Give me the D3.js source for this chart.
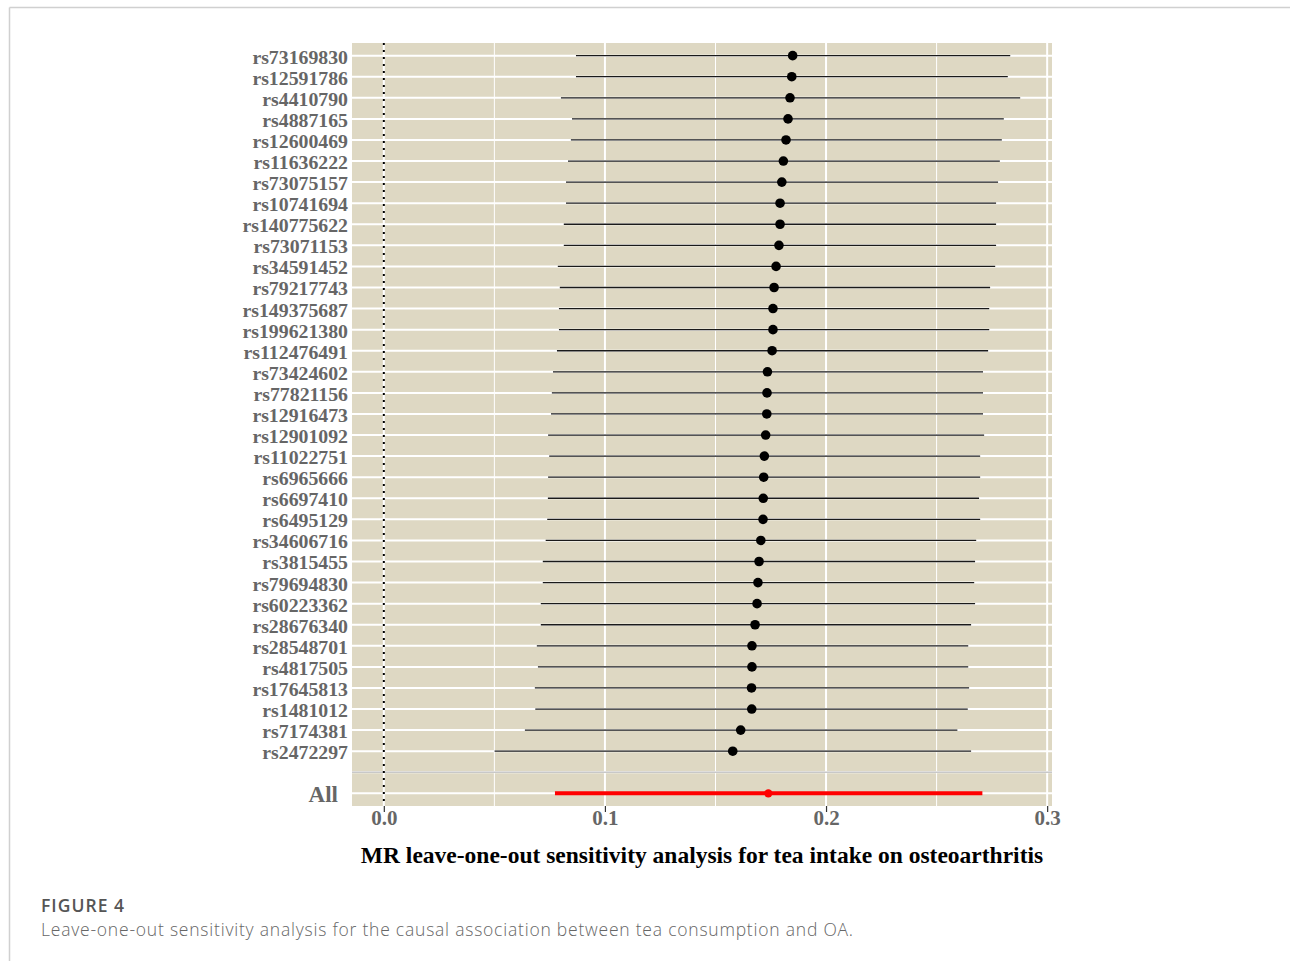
<!DOCTYPE html>
<html>
<head>
<meta charset="utf-8">
<script src="https://cdn.jsdelivr.net/npm/d3@7"></script>
<style>
  html, body { margin: 0; padding: 0; background: #fff; }
  svg { display: block; }
</style>
</head>
<body>
<svg id="chart" width="1290" height="961"></svg>
<script>
// ---- data ----
const snps = ["rs73169830","rs12591786","rs4410790","rs4887165","rs12600469","rs11636222","rs73075157","rs10741694","rs140775622","rs73071153","rs34591452","rs79217743","rs149375687","rs199621380","rs112476491","rs73424602","rs77821156","rs12916473","rs12901092","rs11022751","rs6965666","rs6697410","rs6495129","rs34606716","rs3815455","rs79694830","rs60223362","rs28676340","rs28548701","rs4817505","rs17645813","rs1481012","rs7174381","rs2472297"];
const beta = [0.1849,0.1845,0.1837,0.1828,0.1819,0.1807,0.1800,0.1792,0.1792,0.1787,0.1774,0.1765,0.1760,0.1760,0.1756,0.1735,0.1733,0.1732,0.1727,0.1721,0.1718,0.1716,0.1715,0.1705,0.1697,0.1692,0.1688,0.1679,0.1665,0.1665,0.1663,0.1664,0.1614,0.1578];
const lower = [0.0869,0.0869,0.0801,0.0851,0.0846,0.0833,0.0824,0.0824,0.0814,0.0814,0.0787,0.0796,0.0792,0.0792,0.0783,0.0765,0.0760,0.0756,0.0743,0.0748,0.0743,0.0742,0.0739,0.0732,0.0719,0.0719,0.0710,0.0710,0.0692,0.0697,0.0683,0.0685,0.0638,0.0501];
const upper = [0.2833,0.2822,0.2878,0.2804,0.2795,0.2786,0.2778,0.2769,0.2769,0.2769,0.2765,0.2742,0.2738,0.2738,0.2733,0.2710,0.2710,0.2710,0.2715,0.2697,0.2697,0.2692,0.2697,0.2679,0.2674,0.2670,0.2674,0.2656,0.2643,0.2643,0.2647,0.2641,0.2594,0.2656];
const allLabel = "All";
const allBeta = 0.1739, allLower = 0.0774, allUpper = 0.2707;
const xTicks = [0.0, 0.1, 0.2, 0.3];
const xMinor = [0.05, 0.15, 0.25];
const xTitle = "MR leave-one-out sensitivity analysis for tea intake on osteoarthritis";
const figLabel = "FIGURE 4";
const figCaption = "Leave-one-out sensitivity analysis for the causal association between tea consumption and OA.";

// ---- layout ----
const svg = d3.select("#chart");
const panel = {left: 352, right: 1052, top: 43, bottom: 806};
const serif = "'Liberation Serif','Times New Roman',serif";
const sans = "'Open Sans','Noto Sans',sans-serif";

// page frame
svg.append("line").attr("x1", 9.5).attr("x2", 1290).attr("y1", 7.5).attr("y2", 7.5)
  .attr("stroke", "#d0d0d0").attr("stroke-width", 1.5);
svg.append("line").attr("x1", 9.5).attr("x2", 9.5).attr("y1", 7.5).attr("y2", 961)
  .attr("stroke", "#d0d0d0").attr("stroke-width", 1.5);

// scales
const rows = snps.concat([""], [allLabel]);
const lo = d3.min([0].concat(lower, [allLower]));
const hi = d3.max([0].concat(upper, [allUpper]));
const pad = (hi - lo) * 0.05;
const x = d3.scaleLinear().domain([lo - pad, hi + pad]).range([panel.left, panel.right]);
const y = d3.scalePoint().domain(rows).range([panel.top, panel.bottom]).padding(0.6);

// panel background
svg.append("rect").attr("x", panel.left).attr("y", panel.top)
  .attr("width", panel.right - panel.left).attr("height", panel.bottom - panel.top)
  .attr("fill", "#DED8C3");

// grid
const g = svg.append("g");
g.selectAll(".minor").data(xMinor).enter().append("line")
  .attr("x1", d => x(d)).attr("x2", d => x(d)).attr("y1", panel.top).attr("y2", panel.bottom)
  .attr("stroke", "#fff").attr("stroke-width", 1);
g.selectAll(".major").data(xTicks).enter().append("line")
  .attr("x1", d => x(d)).attr("x2", d => x(d)).attr("y1", panel.top).attr("y2", panel.bottom)
  .attr("stroke", "#fff").attr("stroke-width", 2);
g.selectAll(".hgrid").data(rows).enter().append("line")
  .attr("x1", panel.left).attr("x2", panel.right).attr("y1", d => y(d)).attr("y2", d => y(d))
  .attr("stroke", "#fff").attr("stroke-width", 2);

// grey separator at blank row
svg.append("line").attr("x1", panel.left).attr("x2", panel.right)
  .attr("y1", y("")).attr("y2", y(""))
  .attr("stroke", "#c8c8c8").attr("stroke-width", 1.5);

// dotted zero line
svg.append("line").attr("x1", x(0)).attr("x2", x(0)).attr("y1", panel.top).attr("y2", panel.bottom)
  .attr("stroke", "#000").attr("stroke-width", 2).attr("stroke-dasharray", "2,5");

// error bars
const data = snps.map((s, i) => ({snp: s, b: beta[i], lo: lower[i], hi: upper[i]}));
svg.append("g").selectAll("line").data(data).enter().append("line")
  .attr("x1", d => x(d.lo)).attr("x2", d => x(d.hi))
  .attr("y1", d => y(d.snp)).attr("y2", d => y(d.snp))
  .attr("stroke", "#1a1a1a").attr("stroke-width", 1.3);
svg.append("g").selectAll("circle").data(data).enter().append("circle")
  .attr("cx", d => x(d.b)).attr("cy", d => y(d.snp)).attr("r", 4.8).attr("fill", "#000");

// All row
svg.append("line").attr("x1", x(allLower)).attr("x2", x(allUpper))
  .attr("y1", y(allLabel)).attr("y2", y(allLabel))
  .attr("stroke", "#ff0000").attr("stroke-width", 4);
svg.append("circle").attr("cx", x(allBeta)).attr("cy", y(allLabel)).attr("r", 4.2).attr("fill", "#ff0000");

// y labels
svg.append("g").selectAll("text").data(snps).enter().append("text")
  .attr("x", 348).attr("y", d => y(d) + 1).attr("dy", "0.35em")
  .attr("text-anchor", "end").attr("font-family", serif).attr("font-weight", "bold")
  .attr("font-size", 19.8).attr("fill", "#666").text(d => d);
svg.append("text").attr("x", 338).attr("y", y(allLabel) + 1).attr("dy", "0.35em")
  .attr("text-anchor", "end").attr("font-family", serif).attr("font-weight", "bold")
  .attr("font-size", 23).attr("fill", "#666").text(allLabel);

// x axis
const xAxis = svg.append("g").attr("transform", `translate(0,${panel.bottom})`)
  .call(d3.axisBottom(x).tickValues(xTicks).tickFormat(d3.format(".1f")).tickSize(6).tickPadding(0));
xAxis.select(".domain").remove();
xAxis.selectAll(".tick line").attr("stroke", "#333").attr("stroke-width", 1.2);
xAxis.selectAll(".tick text").attr("font-family", serif).attr("font-weight", "bold")
  .attr("font-size", 21).attr("fill", "#666").attr("dy", "0.75em").attr("y", 3);

// x title
svg.append("text").attr("x", (panel.left + panel.right) / 2).attr("y", 863)
  .attr("text-anchor", "middle").attr("font-family", serif).attr("font-weight", "bold")
  .attr("font-size", 23.5).attr("fill", "#000").text(xTitle);

// caption
svg.append("text").attr("x", 41).attr("y", 912).attr("font-family", sans)
  .attr("font-size", 17.5).attr("font-weight", 600).attr("fill", "#555")
  .attr("textLength", 83).attr("lengthAdjust", "spacing").text(figLabel);
svg.append("text").attr("x", 41).attr("y", 936).attr("font-family", sans)
  .attr("font-size", 17.5).attr("font-weight", 300).attr("fill", "#666")
  .attr("textLength", 812).attr("lengthAdjust", "spacing").text(figCaption);
</script>
</body>
</html>
